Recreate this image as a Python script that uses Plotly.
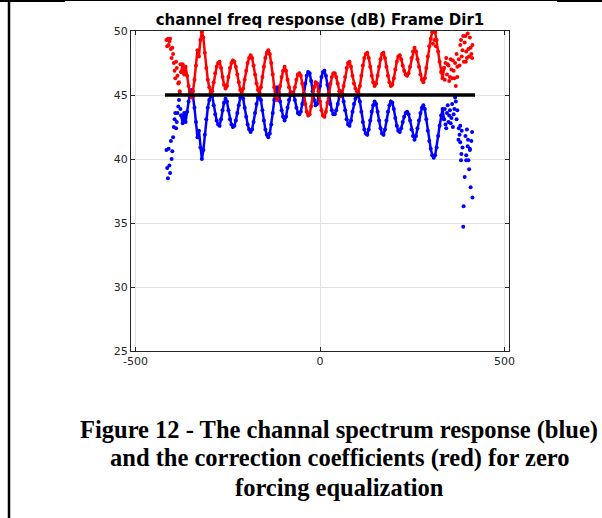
import plotly.graph_objects as go

# ---- data ----
x_start, x_step = -416, 4
blue_db = [
    40.7, 38.5, 39.5, 41.4, 40.6, 42.5, 43.6, 42.9, 44.1, 45.1, 43.4, 42.8, 43.6, 42.9, 43.7, 44.5,
    45.2, 45.4, 44.9, 44.0, 42.9, 41.7, 42.2, 40.9, 40.0, 40.7, 41.9, 43.1, 44.0, 44.6, 45.0, 44.9,
    44.2, 43.5, 43.0, 42.7, 42.6, 43.1, 43.8, 44.4, 44.7, 44.5, 43.8, 43.1, 42.7, 42.5, 42.6, 43.0,
    43.6, 44.2, 44.8, 45.0, 44.7, 44.0, 43.3, 42.7, 42.3, 42.1, 42.3, 42.9, 43.6, 44.3, 44.8, 45.0,
    44.6, 43.8, 43.0, 42.3, 41.9, 41.7, 42.0, 42.7, 43.6, 44.6, 45.3, 45.6, 45.2, 44.5, 43.8, 43.3,
    43.0, 43.3, 44.0, 44.6, 45.0, 45.2, 45.1, 44.6, 44.0, 43.6, 43.5, 43.7, 44.3, 45.1, 45.9, 46.5,
    46.8, 46.7, 46.1, 45.3, 44.6, 44.2, 44.3, 44.9, 45.7, 46.4, 46.8, 46.9, 46.5, 45.8, 45.0, 44.3,
    43.8, 43.5, 43.5, 43.8, 44.3, 44.9, 45.3, 45.1, 44.5, 43.8, 43.1, 42.7, 42.6, 43.0, 43.7, 44.3,
    44.7, 44.9, 45.0, 44.5, 43.7, 42.9, 42.3, 42.0, 41.9, 42.3, 43.0, 43.7, 44.2, 44.5, 44.3, 43.7,
    43.0, 42.4, 42.0, 41.9, 42.3, 43.0, 43.7, 44.2, 44.5, 44.4, 43.9, 43.2, 42.6, 42.2, 42.1, 42.4,
    42.9, 43.3, 43.6, 43.7, 43.5, 43.0, 42.3, 41.8, 41.5, 41.8, 42.4, 43.0, 43.6, 44.0, 44.2, 43.9,
    43.1, 42.2, 41.4, 40.8, 40.3, 40.1, 40.3, 40.9, 41.8, 42.6, 43.4, 43.9, 43.1, 42.7, 43.6, 42.9,
    43.8, 43.2, 42.5, 43.9, 44.5, 43.8, 42.4, 41.3, 42.2, 34.7, 38.6, 39.9, 41.0, 39.2, 37.8, 42.1,
]
red_db = [
    49.3, 49.4, 49.2, 48.6, 48.7, 47.5, 46.3, 47.1, 45.9, 45.3, 46.8, 47.4, 46.6, 47.2, 46.5, 45.7,
    45.0, 44.8, 45.3, 46.2, 47.3, 48.5, 48.0, 49.3, 49.9, 49.5, 48.3, 47.1, 46.2, 45.6, 45.2, 45.3,
    46.0, 46.7, 47.2, 47.5, 47.6, 47.1, 46.4, 45.8, 45.5, 45.7, 46.4, 47.1, 47.5, 47.7, 47.6, 47.2,
    46.6, 46.0, 45.4, 45.2, 45.5, 46.2, 46.9, 47.5, 47.9, 48.1, 47.9, 47.3, 46.6, 45.9, 45.4, 45.2,
    45.6, 46.4, 47.2, 47.9, 48.3, 48.5, 48.2, 47.5, 46.6, 45.6, 44.9, 44.6, 45.0, 45.7, 46.4, 46.9,
    47.2, 46.9, 46.2, 45.6, 45.2, 45.0, 45.1, 45.6, 46.2, 46.6, 46.7, 46.5, 45.9, 45.1, 44.3, 43.7,
    43.4, 43.5, 44.1, 44.9, 45.6, 46.0, 45.9, 45.3, 44.5, 43.8, 43.4, 43.3, 43.7, 44.4, 45.2, 45.9,
    46.4, 46.7, 46.7, 46.4, 45.9, 45.3, 44.9, 45.1, 45.7, 46.4, 47.1, 47.5, 47.6, 47.2, 46.5, 45.9,
    45.5, 45.3, 45.2, 45.7, 46.5, 47.3, 47.9, 48.2, 48.3, 47.9, 47.2, 46.5, 46.0, 45.7, 45.9, 46.5,
    47.2, 47.8, 48.2, 48.3, 47.9, 47.2, 46.5, 46.0, 45.7, 45.8, 46.3, 47.0, 47.6, 48.0, 48.1, 47.8,
    47.3, 46.9, 46.6, 46.5, 46.7, 47.2, 47.9, 48.4, 48.7, 48.4, 47.8, 47.2, 46.6, 46.2, 46.0, 46.3,
    47.1, 48.0, 48.8, 49.4, 49.9, 50.1, 49.9, 49.3, 48.4, 47.6, 46.8, 46.3, 47.1, 47.5, 46.6, 47.3,
    46.4, 47.0, 47.7, 46.3, 45.7, 46.4, 47.8, 48.9, 48.0, 49.6, 49.1, 48.4, 49.8, 48.0, 48.7, 47.9,
]
# extra scattered points in the noisy band edges
blue_extra_x = [-414, -410, -406, -402, -398, -394, -390, -386, -382, -378,
                338, 342, 346, 350, 354, 358, 362, 366, 370, 378, 382, 386, 394, 398, 402, 406,
                410, 413, 389, 383, 375, 380, 396, 401, 406]
blue_extra_db = [39.3, 40.8, 38.9, 40.0, 41.7, 43.1, 42.4, 43.6, 44.6, 43.9,
                 43.9, 42.4, 44.2, 43.4, 42.8, 44.3, 43.5, 44.8, 43.1, 41.9, 39.9, 40.9, 41.8, 42.3,
                 39.9, 40.8, 41.4, 37.0, 36.3, 40.4, 41.5, 42.6, 40.3, 41.5, 40.7]
red_extra_x = [-414, -410, -406, -402, -398, -394, -390, -386, -382, -378,
               338, 342, 346, 350, 354, 358, 362, 366, 370, 378, 382, 386, 390, 394, 398, 402,
               406, 410, 413, 310, 306, 314, 395, 372]
red_extra_db = [48.8, 48.9, 49.4, 47.9, 48.2, 46.9, 47.6, 46.5, 46.0, 47.4,
                46.2, 47.9, 47.4, 46.1, 47.8, 46.3, 46.9, 47.5, 48.2, 47.3, 49.3, 48.5, 47.6, 49.6,
                47.9, 48.6, 49.5, 48.2, 48.9, 49.3, 49.0, 48.8, 47.6, 47.2]
ref_x = [-420, 420]
ref_db = [45, 45]
x_ticks = [-500, 0, 500]
y_ticks = [25, 30, 35, 40, 45, 50]

freq = [x_start + i * x_step for i in range(len(blue_db))]
lo, hi = 10, 189  # smooth (wave) part of the band vs noisy edges

# ---- layout geometry (pixels) ----
W, H = 602, 518
L, R, T, B = 131, 93, 31, 167
PW, PH = W - L - R, H - T - B


def px(xp):
    return (xp - L) / PW


def py(yp):
    return 1 - (yp - T) / PH


BLUE, RED = "#0000ff", "#ff0000"
fig = go.Figure()
for vals, ex_x, ex_y, col in [(blue_db, blue_extra_x, blue_extra_db, BLUE),
                              (red_db, red_extra_x, red_extra_db, RED)]:
    fig.add_trace(go.Scatter(x=freq[lo:hi], y=vals[lo:hi], mode="lines+markers",
                             line=dict(color=col, width=2.5),
                             marker=dict(color=col, size=4, line=dict(width=0)),
                             showlegend=False))
    fig.add_trace(go.Scatter(x=freq[:lo + 1] + freq[hi - 1:] + ex_x,
                             y=vals[:lo + 1] + vals[hi - 1:] + ex_y, mode="markers",
                             marker=dict(color=col, size=4, line=dict(width=0)),
                             showlegend=False))
fig.add_trace(go.Scatter(x=ref_x, y=ref_db, mode="lines",
                         line=dict(color="#000000", width=3.5), showlegend=False))

axis_common = dict(showline=True, linecolor="#262626", linewidth=1, mirror="ticks",
                   ticks="inside", ticklen=4, tickcolor="#262626",
                   showgrid=True, gridcolor="#e2e2e2", gridwidth=1, zeroline=False,
                   tickfont=dict(family="DejaVu Sans", size=11, color="#262626"))

fig.update_xaxes(range=[-512, 512], tickvals=x_ticks, ticktext=[str(v) for v in x_ticks],
                 **axis_common)
fig.update_yaxes(range=[25, 50], tickvals=y_ticks, **axis_common)

fig.update_layout(
    width=W, height=H,
    margin=dict(l=L, r=R, t=T, b=B, pad=0),
    paper_bgcolor="white", plot_bgcolor="white",
    title=dict(text="<b>channel freq response (dB) Frame Dir1</b>",
               x=px(320), xref="paper", xanchor="center",
               y=1 - 20 / H, yanchor="middle",
               font=dict(family="DejaVu Sans", size=15, color="#000000")),
)

captions = [
    ("Figure 12 - The channal spectrum response (blue)", 430),
    ("and the correction coefficients (red) for zero", 458),
    ("forcing equalization", 487),
]
for txt, yc in captions:
    fig.add_annotation(text="<b>" + txt + "</b>", x=px(339), y=py(yc), xref="paper", yref="paper",
                       xanchor="center", yanchor="middle", showarrow=False,
                       font=dict(family="Liberation Serif", size=24.5, color="#000000"))

# page frame lines
fig.add_shape(type="line", xref="paper", yref="paper", x0=px(9), x1=px(9), y0=py(0), y1=py(H),
              line=dict(color="black", width=2.5))
fig.add_shape(type="line", xref="paper", yref="paper", x0=px(0), x1=px(W), y0=py(0.5), y1=py(0.5),
              line=dict(color="black", width=1))
fig.add_shape(type="line", xref="paper", yref="paper", x0=px(0), x1=px(65), y0=py(1), y1=py(1),
              line=dict(color="black", width=2))
fig.add_shape(type="line", xref="paper", yref="paper", x0=px(557), x1=px(W), y0=py(1), y1=py(1),
              line=dict(color="black", width=2))

fig.write_html("out.html")
